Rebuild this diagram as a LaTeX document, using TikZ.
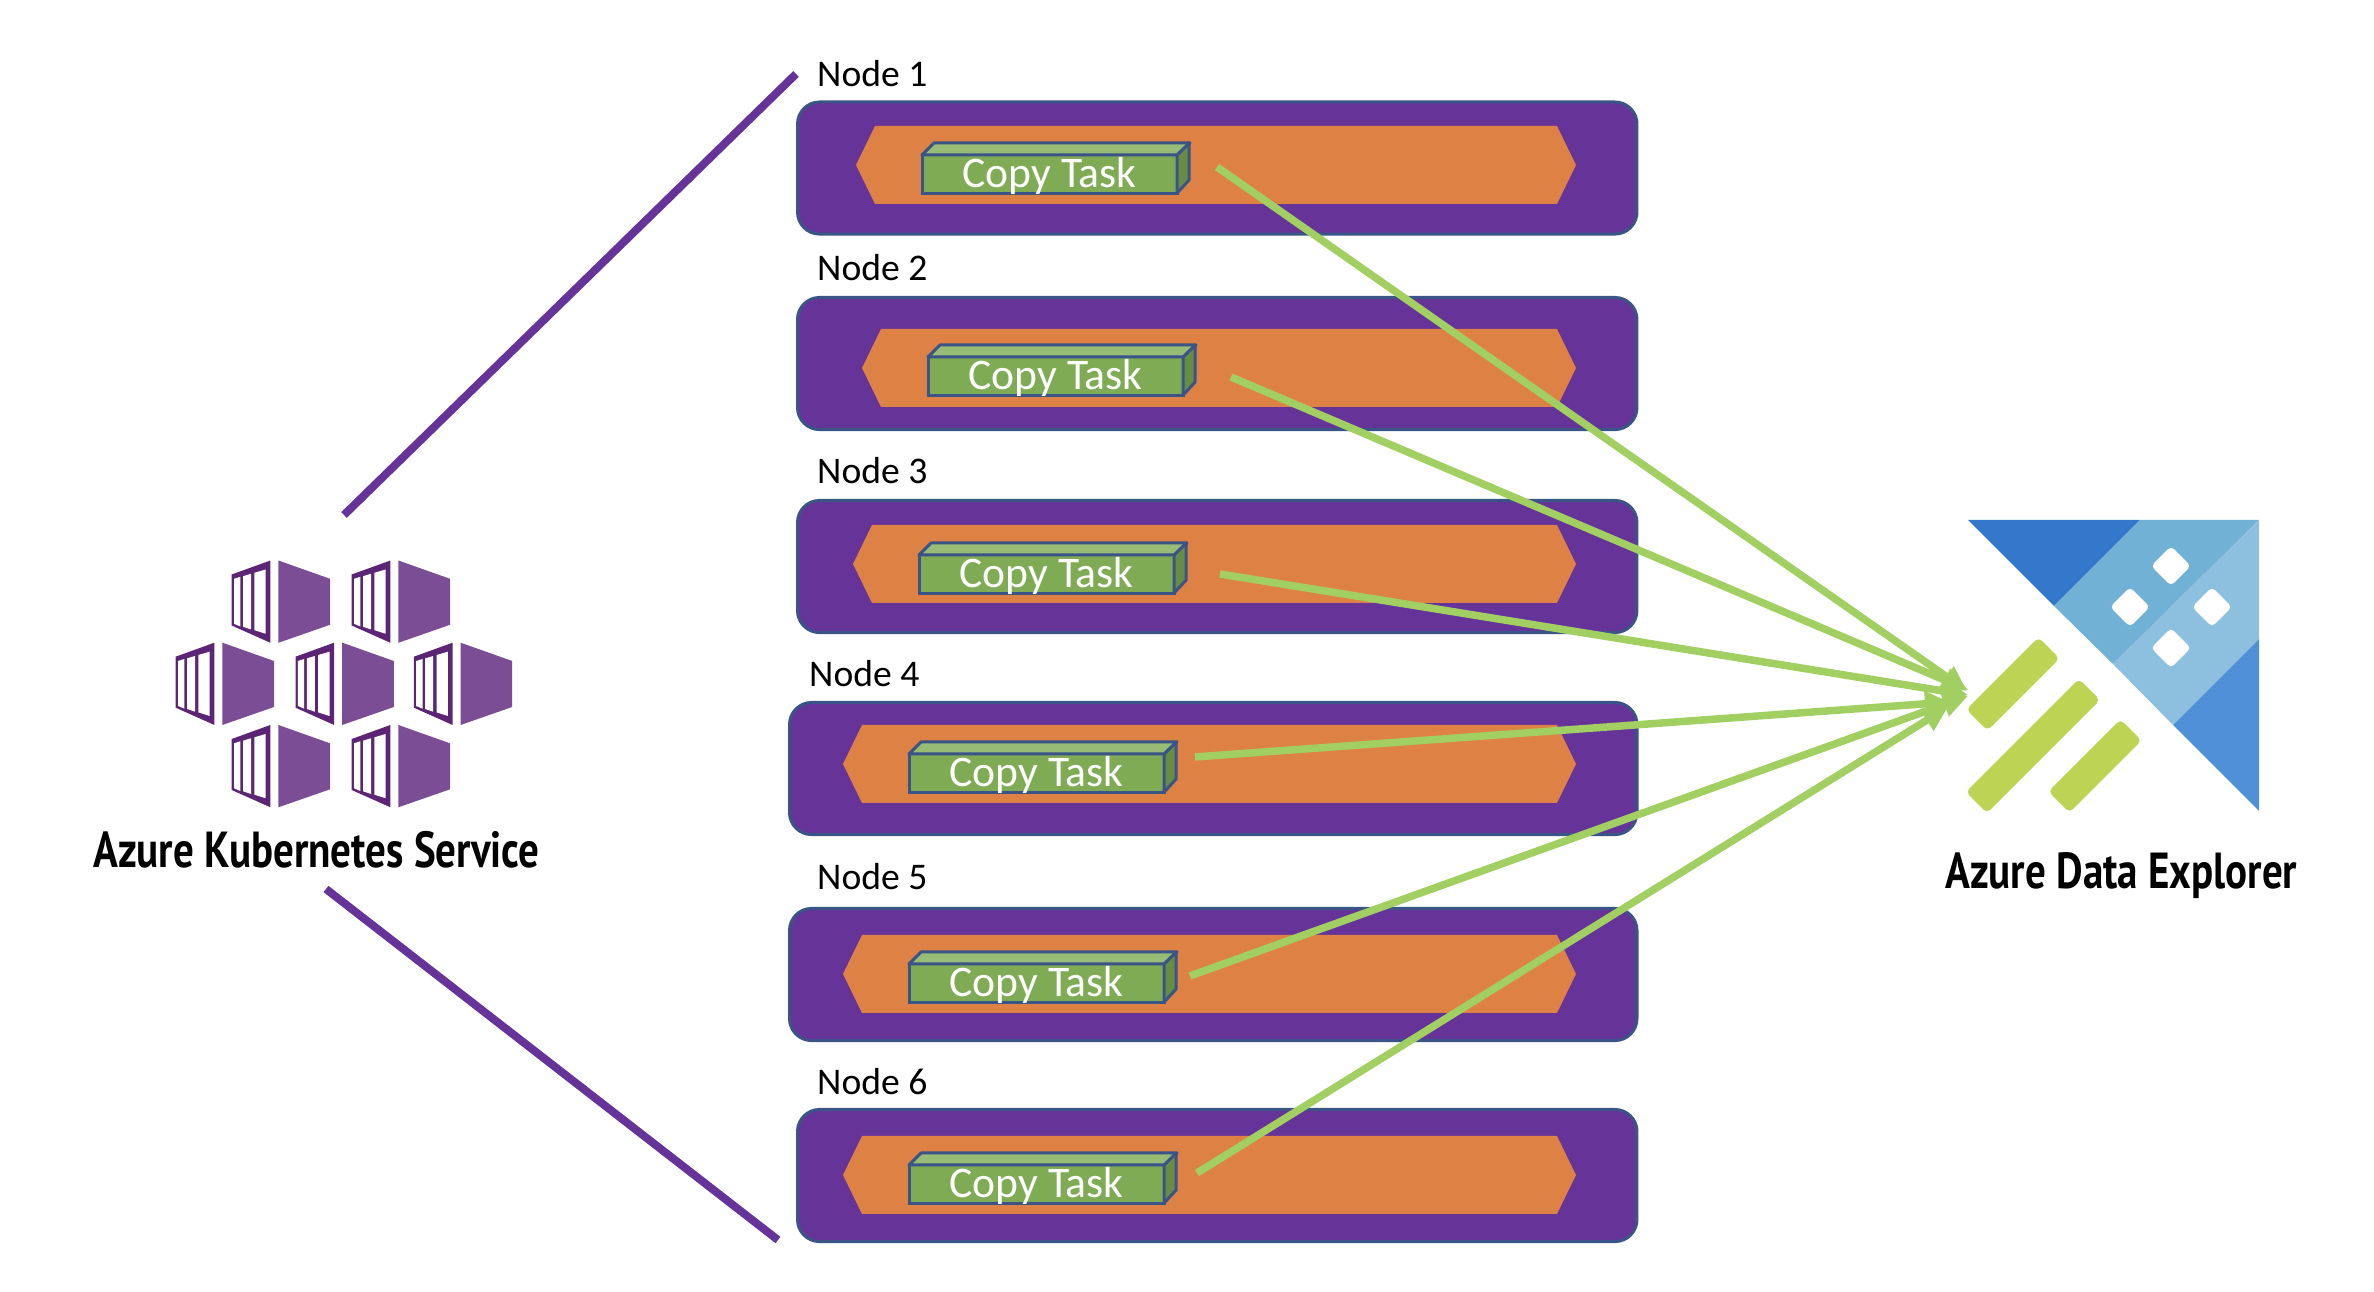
\documentclass[tikz,border=0pt]{standalone}
\usepackage{fontspec}
\setmainfont{Carlito}
\newfontfamily\titlefont[FakeStretch=0.81]{PT Sans}
\usetikzlibrary{arrows.meta}

\definecolor{aksdark}{HTML}{5C2475}
\definecolor{akslight}{HTML}{7A4D94}
\definecolor{boxpurple}{HTML}{663399}
\definecolor{boxline}{HTML}{3A5488}
\definecolor{bandorange}{HTML}{DE8144}
\definecolor{taskgreen}{HTML}{7FAB55}
\definecolor{tasktopgreen}{HTML}{98BB76}
\definecolor{tasksidegreen}{HTML}{678D44}
\definecolor{arrowgreen}{HTML}{A1CF62}
\definecolor{adxbluedark}{HTML}{3478CC}
\definecolor{adxbluemid}{HTML}{71B1D5}
\definecolor{adxbluelight}{HTML}{8DC0DF}
\definecolor{adxbluelow}{HTML}{5090D8}
\definecolor{adxgreen}{HTML}{BDD354}

\tikzset{
  nodebox/.style={draw=boxline,fill=boxpurple,line width=.03cm,rounded corners=.22cm,
    minimum height=1.32cm,outer sep=0pt,inner sep=0pt,anchor=north west},
  nodelabel/.style={anchor=base west,inner sep=0pt,font=\fontsize{10.7}{12}\selectfont},
  taskfront/.style={draw=boxline,fill=taskgreen,line width=.03cm,text=white,
    minimum width=2.55cm,minimum height=.38cm,inner sep=0pt,outer sep=0pt,
    text height=.26cm,text depth=0pt,anchor=north west,font=\fontsize{12.4}{14}\selectfont},
  tasktop/.style={draw=boxline,fill=tasktopgreen,line width=.03cm,line join=round},
  taskside/.style={draw=boxline,fill=tasksidegreen,line width=.03cm,line join=round},
  copyline/.style={arrowgreen,line width=.075cm,-{Triangle[length=.25cm,width=.24cm]}},
  aksline/.style={boxpurple,line width=.08cm},
  logotitle/.style={anchor=base west,inner sep=0pt,font=\titlefont\bfseries\fontsize{14.4}{16}\selectfont},
  adxbar/.style={fill=adxgreen,rounded corners=.05cm,minimum height=.3cm,inner sep=0pt,rotate=45},
  adxdot/.style={fill=white,rounded corners=.04cm,minimum size=.28cm,inner sep=0pt,rotate=45},
  pics/akscube/.style={code={
    \fill[aksdark] (0,14) -- (38.7,0) -- (38.7,82.3) -- (0,65) -- cycle;
    \fill[akslight] (46.7,0) -- (98.3,18.3) -- (98.3,64.3) -- (46.7,82.3) -- cycle;
    \fill[white] (2.3,18.3) -- (8.7,16.3) -- (8.7,66) -- (2.3,63.3) -- cycle;
    \fill[white] (11.3,15.7) -- (19.3,13.3) -- (19.3,69) -- (11.3,66.3) -- cycle;
    \fill[white] (22.7,12.3) -- (34,9) -- (34,73.3) -- (22.7,69.7) -- cycle;
  }}
}

% orange band: left tip x, middle y
\newcommand{\hexband}[2]{\fill[bandorange] (#1,#2) -- (#1+19,#2-39) -- (1557,#2-39)
  -- (1576,#2) -- (1557,#2+39) -- (#1+19,#2+39) -- cycle;}
% upper and right faces of a task
\newcommand{\taskfaces}[1]{\draw[tasktop] (#1.north west) -- ++(12,-12) -- ++(256,0)
  -- (#1.north east) -- cycle;
  \draw[taskside] (#1.north east) -- ++(12,-12) -- ++(0,37) -- (#1.south east) -- cycle;}

\begin{document}
\begin{tikzpicture}[x=.01cm,y=-.01cm]
    \useasboundingbox (0,0) rectangle (2374,1292);
    % kubernetes icon, seven containers
    \pic at (231.7,560.5) {akscube};
    \pic at (351.7,560.5) {akscube};
    \pic at (175.7,642.7) {akscube};
    \pic at (295.5,642.7) {akscube};
    \pic at (413.9,642.7) {akscube};
    \pic at (231.7,725) {akscube};
    \pic at (351.7,725) {akscube};
    \node[logotitle] (akstitle) at (93,868) {Azure Kubernetes Service};
    % lines from the service to the first and last node
    \coordinate (aksupper) at (344,515);
    \coordinate (akslower) at (326,889);
    \coordinate (nodetop) at (796,74);
    \coordinate (nodebottom) at (778,1240);
    \draw[aksline] (aksupper) -- (nodetop);
    \draw[aksline] (akslower) -- (nodebottom);
    % node 1
    \node[nodelabel] (label1) at (816.5,86.5) {Node 1};
    \node[nodebox,minimum width=8.39cm] (box1) at (797.5,102) {};
    \hexband{856}{165}
    \node[taskfront] (task1) at (922,155) {Copy Task};
    \taskfaces{task1}
    % node 2
    \node[nodelabel] (label2) at (816.5,280.5) {Node 2};
    \node[nodebox,minimum width=8.39cm] (box2) at (797.5,297.5) {};
    \hexband{862}{368}
    \node[taskfront] (task2) at (928,357) {Copy Task};
    \taskfaces{task2}
    % node 3
    \node[nodelabel] (label3) at (816.5,483.5) {Node 3};
    \node[nodebox,minimum width=8.39cm] (box3) at (797.5,500.5) {};
    \hexband{853}{564}
    \node[taskfront] (task3) at (919,555) {Copy Task};
    \taskfaces{task3}
    % node 4, a little wider
    \node[nodelabel] (label4) at (808.5,686.5) {Node 4};
    \node[nodebox,minimum width=8.47cm] (box4) at (789.5,702.5) {};
    \hexband{843}{764}
    \node[taskfront] (task4) at (909,754) {Copy Task};
    \taskfaces{task4}
    % node 5, also wider
    \node[nodelabel] (label5) at (816.5,889.5) {Node 5};
    \node[nodebox,minimum width=8.47cm] (box5) at (789.5,908.5) {};
    \hexband{843}{974}
    \node[taskfront] (task5) at (909,964) {Copy Task};
    \taskfaces{task5}
    % node 6
    \node[nodelabel] (label6) at (816.5,1094.5) {Node 6};
    \node[nodebox,minimum width=8.39cm] (box6) at (797.5,1109.5) {};
    \hexband{843}{1175}
    \node[taskfront] (task6) at (909,1165) {Copy Task};
    \taskfaces{task6}
    % data explorer logo
    \fill[adxbluedark] (1968,520) -- (2140,520) -- (2054,606) -- cycle;
    \fill[adxbluemid] (2140,520) -- (2259,520) -- (2113,664) -- (2054,606) -- cycle;
    \fill[adxbluelight] (2259,520) -- (2259,639) -- (2173,725) -- (2113,664) -- cycle;
    \fill[adxbluelow] (2259,639) -- (2259,811) -- (2173,725) -- cycle;
    \node[adxdot] (dot1) at (2171,566) {};
    \node[adxdot] (dot2) at (2130,607) {};
    \node[adxdot] (dot3) at (2212,607) {};
    \node[adxdot] (dot4) at (2171,648) {};
    \node[adxbar,minimum width=1.02cm] (bar1) at (2013,684) {};
    \node[adxbar,minimum width=1.60cm] (bar2) at (2033,746) {};
    \node[adxbar,minimum width=1.02cm] (bar3) at (2095,766) {};
    \node[logotitle] (adxtitle) at (1945,889) {Azure Data Explorer};
    % copy arrows, free ends at both sides
    \coordinate (start1) at (1217,167);
    \coordinate (start2) at (1231,377);
    \coordinate (start3) at (1220,574);
    \coordinate (start4) at (1195,757);
    \coordinate (start5) at (1190,976);
    \coordinate (start6) at (1197,1173);
    \coordinate (tip1) at (1967,691);
    \coordinate (tip2) at (1968,690);
    \coordinate (tip3) at (1968,695);
    \coordinate (tip4) at (1950,702);
    \coordinate (tip5) at (1968,696);
    \coordinate (tip6) at (1948,707);
    \draw[copyline] (start1) -- (tip1);
    \draw[copyline] (start2) -- (tip2);
    \draw[copyline] (start3) -- (tip3);
    \draw[copyline] (start4) -- (tip4);
    \draw[copyline] (start5) -- (tip5);
    \draw[copyline] (start6) -- (tip6);
  \end{tikzpicture}
\end{document}
